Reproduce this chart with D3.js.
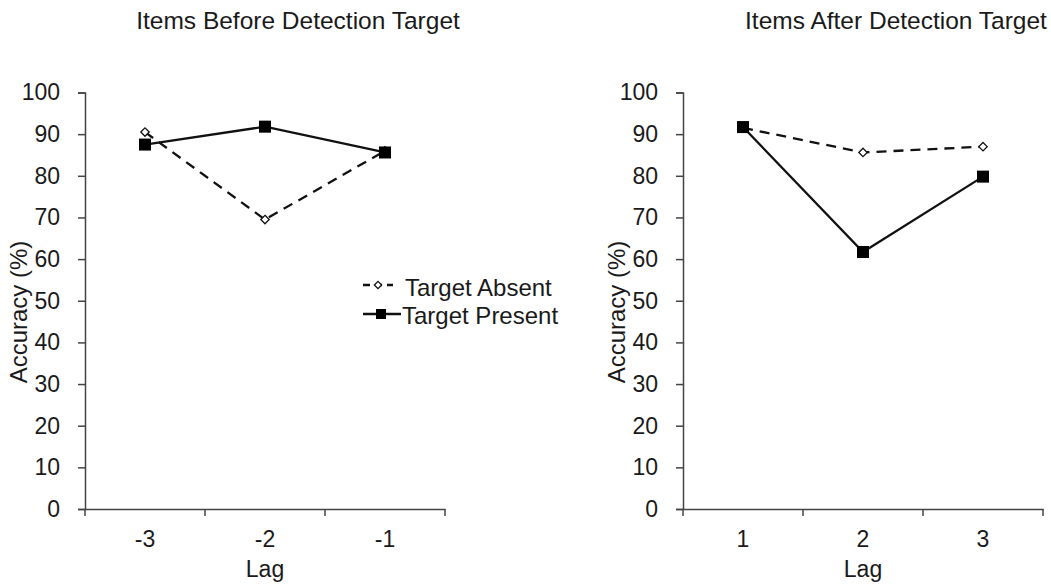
<!DOCTYPE html>
<html>
<head>
<meta charset="utf-8">
<script src="https://cdn.jsdelivr.net/npm/d3@7"></script>
<style>
  body { margin: 0; background: #fff; }
  text { font-family: "Liberation Sans", Arial, sans-serif; fill: #1a1a1a; }
</style>
</head>
<body>
<div id="chart"></div>
<script>
// Accuracy by lag, before and after the detection target

const lagsBefore = ['-3', '-2', '-1'];
const lagsAfter = ['1', '2', '3'];
const yTicks = [0, 10, 20, 30, 40, 50, 60, 70, 80, 90, 100];

const absentBefore = [90.5, 69.5, 86];
const presentBefore = [87.5, 91.8, 85.6];
const absentAfter = [91.5, 85.6, 87];
const presentAfter = [91.7, 61.7, 79.8];

const seriesNames = ['Target Absent', 'Target Present'];

var svg = d3.select('#chart')
    .append('svg')
    .attr('width', 1051)
    .attr('height', 585);

var y = d3.scaleLinear()
    .domain([0, 100])
    .range([509, 92.5]);

var line = (x) => d3.line()
    .x((d, i) => x(x.domain()[i]) + x.bandwidth() / 2)
    .y(d => y(d));

function panel(left, lags, absent, present, title) {
    let x = d3.scaleBand()
        .domain(lags)
        .range([left, left + 360]);

    let g = svg.append('g');

    // y axis
    let yAx = g.append('g')
        .attr('transform', `translate(${left},0)`)
        .call(d3.axisLeft(y).tickValues(yTicks).tickSize(7).tickPadding(18));
    yAx.selectAll('path, line').attr('stroke', '#444').attr('stroke-width', 1.5);
    yAx.selectAll('text').attr('font-size', '23px').attr('font-family', '"Liberation Sans", Arial, sans-serif').attr('fill', '#1a1a1a');

    // x axis (labels at band centres, ticks at band edges)
    let xAx = g.append('g')
        .attr('transform', `translate(0,${y(0)})`)
        .call(d3.axisBottom(x).tickSize(0).tickPadding(22));
    xAx.select('.domain').attr('stroke', '#444').attr('stroke-width', 1.5);
    xAx.selectAll('text').attr('font-size', '23px').attr('font-family', '"Liberation Sans", Arial, sans-serif').attr('fill', '#1a1a1a');

    g.selectAll('.xtick')
        .data(lags.map(d => x(d)).concat([x.range()[1]]))
        .join('line')
        .attr('x1', d => d).attr('x2', d => d)
        .attr('y1', y(0)).attr('y2', y(0) + 7)
        .attr('stroke', '#444')
        .attr('stroke-width', 1.5);

    g.append('text')
        .attr('text-anchor', 'middle')
        .attr('x', left + 180)
        .attr('y', 577)
        .attr('font-size', '23px')
        .text('Lag');

    g.append('text')
        .attr('text-anchor', 'middle')
        .attr('transform', `translate(${left - 58},312) rotate(-90)`)
        .attr('font-size', '24px')
        .text('Accuracy (%)');

    g.append('text')
        .attr('text-anchor', 'middle')
        .attr('x', left + 213)
        .attr('y', 29)
        .attr('font-size', '24.5px')
        .text(title);

    // series
    g.append('path')
        .datum(absent)
        .attr('d', line(x))
        .attr('fill', 'none')
        .attr('stroke', '#111')
        .attr('stroke-width', 2.3)
        .attr('stroke-dasharray', '10,7');

    g.append('path')
        .datum(present)
        .attr('d', line(x))
        .attr('fill', 'none')
        .attr('stroke', '#111')
        .attr('stroke-width', 2.3);

    g.selectAll('.dm')
        .data(absent)
        .join('path')
        .attr('d', d3.symbol(d3.symbolDiamond2, 45))
        .attr('transform', (d, i) => `translate(${x(lags[i]) + x.bandwidth() / 2},${y(d)})`)
        .attr('fill', '#fff')
        .attr('stroke', '#111')
        .attr('stroke-width', 1.3);

    g.selectAll('.sq')
        .data(present)
        .join('rect')
        .attr('x', (d, i) => x(lags[i]) + x.bandwidth() / 2 - 6)
        .attr('y', d => y(d) - 6)
        .attr('width', 12)
        .attr('height', 12)
        .attr('fill', '#000');
}

panel(85, lagsBefore, absentBefore, presentBefore, 'Items Before Detection Target');
panel(683, lagsAfter, absentAfter, presentAfter, 'Items After Detection Target');

// legend
let legendG = svg.append('g');

legendG.selectAll('.leg-line')
    .data(seriesNames)
    .join('line')
    .attr('x1', 363)
    .attr('x2', (d, i) => i ? 401 : 393)
    .attr('y1', (d, i) => 285 + i * 29)
    .attr('y2', (d, i) => 285 + i * 29)
    .attr('stroke', '#111')
    .attr('stroke-width', 2.3)
    .attr('stroke-dasharray', (d, i) => i ? null : '7,5');

legendG.append('path')
    .attr('d', d3.symbol(d3.symbolDiamond2, 34))
    .attr('transform', 'translate(378,285)')
    .attr('fill', '#fff')
    .attr('stroke', '#111')
    .attr('stroke-width', 1.3);

legendG.append('rect')
    .attr('x', 376).attr('y', 309)
    .attr('width', 10).attr('height', 10)
    .attr('fill', '#000');

legendG.selectAll('.leg-text')
    .data(seriesNames)
    .join('text')
    .attr('x', (d, i) => i ? 402 : 405)
    .attr('y', (d, i) => 296 + i * 28)
    .attr('font-size', '24px')
    .text(d => d);
</script>
</body>
</html>
